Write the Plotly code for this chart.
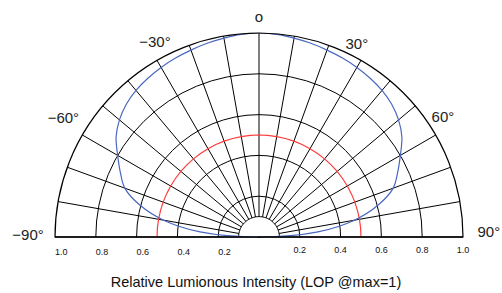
import plotly.graph_objects as go

# Angles in degrees (0 = straight up, positive to the right)
angles = [-90, -85, -80, -75, -70, -65, -60, -55, -50, -45, -40, -35, -30, -25, -20, -15, -10, -5,
          0, 5, 10, 15, 20, 25, 30, 35, 40, 45, 50, 55, 60, 65, 70, 75, 80, 85, 90]

# Relative luminous intensity (blue curve)
blue_intensity = [0.0, 0.29, 0.475, 0.605, 0.70, 0.75, 0.80, 0.855, 0.893, 0.92, 0.938, 0.95, 0.96, 0.968, 0.975, 0.983, 0.99, 0.997,
                  1.0, 0.997, 0.99, 0.983, 0.975, 0.968, 0.96, 0.95, 0.938, 0.92, 0.893, 0.855, 0.80, 0.75, 0.70, 0.605, 0.475, 0.29, 0.0]

# Reference half-intensity circle (red curve)
red_intensity = [0.5] * len(angles)

# Inner hub circle
hub_radius = [0.1] * len(angles)

grid_angles = list(range(-90, 91, 10))

# Angle labels and where they sit (radius in units of the main plot, just outside the rim)
angle_label_text = ["−90°", "−60°", "−30°", "o", "30°", "60°", "90°"]
angle_label_theta = [-89.8, -58.9, -28.2, 0, 27.0, 57.1, 89.0]
angle_label_r = [1.132, 1.12, 1.079, 1.074, 1.057, 1.074, 1.127]

radial_ticks = [0.2, 0.4, 0.6, 0.8, 1.0]
radial_ticktext = ["0.2", "0.4", "0.6", "0.8", "1.0"]

title_text = "Relative Lumionous Intensity (LOP @max=1)"

# geometry of the plot (pixels)
W, H = 502, 293
CX, CY, R = 259, 237, 204
K = 1.16  # label layer is K times larger than the main plot

fig = go.Figure()

# white hub covering the radial lines near the centre
fig.add_trace(go.Scatterpolar(
    r=hub_radius + [0], theta=angles + [0], mode="lines", fill="toself",
    fillcolor="white", line=dict(color="black", width=1), hoverinfo="skip", subplot="polar"))

fig.add_trace(go.Scatterpolar(
    r=red_intensity, theta=angles, mode="lines",
    line=dict(color="#ff3b3b", width=1.2), hoverinfo="skip", subplot="polar"))

fig.add_trace(go.Scatterpolar(
    r=blue_intensity, theta=angles, mode="lines",
    line=dict(color="#4a67c0", width=1.2, shape="spline"), hoverinfo="skip", subplot="polar"))

# invisible trace to activate the overlay subplot (right-hand radial labels)
fig.add_trace(go.Scatterpolar(
    r=[0], theta=[0], mode="markers", marker=dict(opacity=0), hoverinfo="skip", subplot="polar2"))

# angle labels on a larger, invisible concentric polar layer
fig.add_trace(go.Scatterpolar(
    r=[v / K for v in angle_label_r], theta=angle_label_theta, mode="text", text=angle_label_text,
    textposition="middle center", textfont=dict(size=15, color="#222"),
    cliponaxis=False, hoverinfo="skip", subplot="polar3"))

dom = dict(x=[(CX - R) / W, (CX + R) / W], y=[(H - CY) / H, (H - CY + R) / H])
dom3 = dict(x=[(CX - K * R) / W, (CX + K * R) / W], y=[(H - CY) / H, (H - CY + K * R) / H])

hidden_angular = dict(rotation=90, direction="clockwise", showgrid=False, showline=False,
                      showticklabels=False, ticks="")

fig.update_layout(
    width=W, height=H,
    margin=dict(l=0, r=0, t=0, b=0),
    paper_bgcolor="white",
    showlegend=False,
    font=dict(family="Liberation Sans, Arial, sans-serif", color="#111"),
    title=dict(text=title_text, x=0.51, xanchor="center", y=1 - 282 / H, yanchor="middle",
               font=dict(size=14.5, color="#111")),
    polar=dict(
        domain=dom,
        sector=[0, 180],
        bgcolor="white",
        angularaxis=dict(
            rotation=90, direction="clockwise",
            tickmode="array", tickvals=grid_angles,
            showticklabels=False, ticks="",
            showgrid=True, gridcolor="black", gridwidth=1,
            showline=True, linecolor="black", linewidth=1.2,
        ),
        radialaxis=dict(
            range=[0, 1], angle=180, side="counterclockwise", tickangle=180,
            tickmode="array", tickvals=radial_ticks, ticktext=radial_ticktext,
            showgrid=True, gridcolor="black", gridwidth=1,
            showline=True, linecolor="black", linewidth=1.2,
            ticks="outside", ticklen=5, tickcolor="rgba(0,0,0,0)",
            tickfont=dict(size=9, color="#111"),
        ),
    ),
    polar2=dict(
        domain=dom,
        sector=[0, 180],
        bgcolor="rgba(0,0,0,0)",
        angularaxis=hidden_angular,
        radialaxis=dict(
            range=[0, 1], angle=0, side="clockwise",
            tickmode="array", tickvals=radial_ticks, ticktext=radial_ticktext,
            showgrid=False, showline=True, linecolor="black", linewidth=1.2,
            ticks="outside", ticklen=5, tickcolor="rgba(0,0,0,0)",
            tickfont=dict(size=9, color="#111"),
        ),
    ),
    polar3=dict(
        domain=dom3,
        sector=[0, 180],
        bgcolor="rgba(0,0,0,0)",
        angularaxis=hidden_angular,
        radialaxis=dict(range=[0, 1], visible=False, showgrid=False, showline=False,
                        showticklabels=False, ticks=""),
    ),
)

fig.write_html("out.html", post_script="document.body.style.margin='0';",
               config={"displayModeBar": False})
